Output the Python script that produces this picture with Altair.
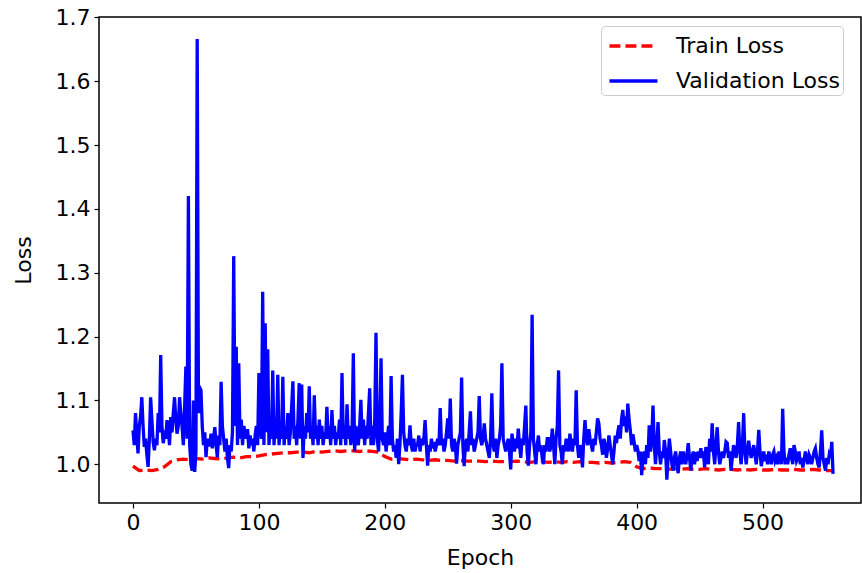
import altair as alt
import pandas as pd

# Validation loss, one value per epoch (epochs 0..556)
val_loss = [
    # 0
    1.053, 1.030, 1.080, 1.045, 1.017, 1.060, 1.075, 1.105, 1.060, 1.027,
    1.040, 1.015, 0.996, 1.040, 1.105, 1.070, 1.035, 1.022, 1.040, 1.030,
    1.080, 1.050, 1.171, 1.060, 1.033, 1.045, 1.040, 1.069, 1.055, 1.030,
    1.074, 1.050, 1.080, 1.105, 1.070, 1.048, 1.060, 1.105, 1.080, 1.058,
    1.030, 1.090, 1.153, 1.040, 1.420, 1.030, 1.000, 0.990, 1.100, 0.988,
    1.020, 1.666, 1.080, 1.120, 1.116, 1.060, 1.030, 1.050, 1.011, 1.040,
    1.030, 1.030, 1.048, 1.025, 1.040, 1.058, 1.030, 1.011, 1.045, 1.030,
    1.129, 1.060, 1.040, 1.020, 1.040, 1.010, 0.994, 1.030, 1.020, 1.050,
    1.326, 1.060, 1.184, 1.030, 1.158, 1.040, 1.070, 1.030, 1.060, 1.050,
    1.040, 1.055, 1.025, 1.045, 1.030, 1.040, 1.020, 1.045, 1.060, 1.030,
    # 100
    1.143, 1.060, 1.040, 1.270, 1.030, 1.221, 1.050, 1.180, 1.030, 1.060,
    1.040, 1.147, 1.030, 1.070, 1.040, 1.140, 1.030, 1.060, 1.040, 1.137,
    1.030, 1.060, 1.040, 1.080, 1.030, 1.050, 1.090, 1.130, 1.040, 1.060,
    1.030, 1.070, 1.127, 1.040, 1.125, 1.010, 1.060, 1.040, 1.080, 1.050,
    1.122, 1.040, 1.060, 1.030, 1.108, 1.040, 1.060, 1.030, 1.070, 1.040,
    1.060, 1.030, 1.050, 1.040, 1.090, 1.040, 1.060, 1.030, 1.085, 1.040,
    1.060, 1.030, 1.050, 1.040, 1.070, 1.030, 1.143, 1.040, 1.060, 1.030,
    1.094, 1.040, 1.060, 1.030, 1.050, 1.174, 1.020, 1.060, 1.040, 1.030,
    1.060, 1.101, 1.040, 1.070, 1.030, 1.060, 1.040, 1.080, 1.119, 1.030,
    1.060, 1.030, 1.070, 1.206, 1.040, 1.020, 1.060, 1.166, 1.040, 1.030,
    # 200
    1.050, 1.020, 1.040, 1.060, 1.030, 1.138, 1.040, 1.020, 1.030, 1.010,
    1.040, 1.000, 1.030, 1.080, 1.140, 1.050, 1.030, 1.020, 1.040, 1.030,
    1.061, 1.030, 1.020, 1.040, 1.020, 1.030, 1.030, 1.045, 1.020, 1.040,
    1.030, 1.040, 1.069, 1.030, 0.998, 1.030, 1.020, 1.040, 1.025, 1.035,
    1.020, 1.030, 1.040, 1.030, 1.088, 1.030, 1.040, 1.020, 1.030, 1.050,
    1.072, 1.040, 1.103, 1.030, 1.020, 1.040, 1.030, 1.001, 1.030, 1.040,
    1.050, 1.136, 1.030, 0.997, 1.030, 1.040, 1.020, 1.050, 1.083, 1.030,
    1.040, 1.020, 1.030, 1.040, 1.050, 1.107, 1.040, 1.030, 1.040, 1.064,
    1.040, 1.030, 1.020, 1.010, 1.040, 1.111, 1.030, 1.020, 1.040, 1.010,
    1.030, 1.040, 1.060, 1.158, 1.040, 1.030, 1.020, 1.030, 1.040, 1.020,
    # 300
    0.992, 1.048, 1.030, 1.020, 1.040, 1.025, 1.056, 1.030, 1.010, 1.040,
    1.030, 1.060, 1.092, 1.020, 0.998, 1.030, 1.050, 1.234, 1.040, 1.020,
    1.000, 1.030, 1.045, 1.020, 1.030, 1.010, 1.000, 1.030, 1.020, 1.040,
    1.040, 1.020, 1.030, 1.056, 1.030, 1.000, 1.040, 1.060, 1.147, 1.030,
    1.020, 1.000, 1.030, 1.020, 1.040, 1.030, 1.020, 1.048, 1.030, 1.020,
    1.040, 1.030, 1.116, 1.030, 1.010, 1.030, 1.020, 0.995, 1.040, 1.069,
    1.040, 1.030, 1.055, 1.040, 1.030, 1.020, 1.040, 1.030, 1.050, 1.072,
    1.064, 1.040, 1.030, 1.015, 1.040, 1.030, 1.010, 1.025, 1.045, 1.030,
    1.015, 1.000, 1.020, 1.045, 1.033, 1.050, 1.061, 1.040, 1.070, 1.085,
    1.060, 1.075, 1.050, 1.095, 1.070, 1.053, 1.030, 1.047, 1.035, 1.020,
    # 400
    1.030, 1.022, 1.005, 1.020, 0.983, 1.010, 1.020, 1.000, 1.030, 1.010,
    1.061, 1.020, 1.040, 1.092, 1.030, 1.000, 1.030, 1.066, 1.020, 1.000,
    1.020, 1.010, 1.038, 1.020, 0.976, 1.010, 1.040, 1.020, 1.000, 0.990,
    1.010, 1.020, 1.000, 0.986, 1.010, 1.020, 1.000, 1.020, 1.010, 1.000,
    1.015, 1.033, 1.010, 0.990, 1.010, 1.020, 1.000, 1.019, 1.005, 1.020,
    1.010, 1.025, 1.010, 1.020, 0.995, 1.027, 1.010, 1.000, 1.040, 1.020,
    1.064, 1.020, 1.000, 1.030, 1.058, 1.020, 1.000, 1.010, 1.020, 1.010,
    1.020, 1.035, 1.033, 1.010, 1.020, 0.990, 1.010, 1.030, 1.020, 1.010,
    1.030, 1.066, 1.020, 1.000, 1.030, 1.080, 1.020, 1.000, 1.020, 1.037,
    1.020, 1.010, 1.020, 1.030, 1.015, 1.000, 1.020, 1.054, 1.020, 0.997,
    # 500
    1.010, 1.020, 1.005, 1.015, 1.000, 1.020, 1.010, 1.000, 1.015, 1.020,
    1.005, 1.010, 1.000, 1.020, 1.010, 1.000, 1.087, 1.020, 1.000, 1.010,
    1.000, 1.015, 1.025, 1.010, 1.000, 1.030, 1.020, 1.005, 1.010, 1.020,
    1.000, 1.010, 0.995, 1.005, 1.020, 1.010, 1.000, 1.015, 1.010, 1.000,
    1.010, 1.020, 1.025, 1.010, 1.000, 0.995, 1.020, 1.053, 1.010, 1.000,
    0.990, 1.010, 1.000, 1.015, 1.010, 1.035, 0.985,
]

# Train loss, read every 5 epochs (0, 5, ..., 555) plus the last epoch 556
train_loss = [
    0.997, 0.990, 0.991, 0.990, 0.992, 0.996, 1.004, 1.007, 1.008, 1.007,
    1.009, 1.008, 1.010, 1.009, 1.008, 1.010, 1.011, 1.010, 1.012, 1.012,
    1.013, 1.015, 1.016, 1.017, 1.018, 1.018, 1.019, 1.019, 1.018, 1.020,
    1.019, 1.020, 1.021, 1.020, 1.021, 1.021, 1.020, 1.021, 1.020, 1.019,
    1.012, 1.008, 1.009, 1.008, 1.007, 1.008, 1.007, 1.006, 1.007, 1.006,
    1.006, 1.005, 1.006, 1.005, 1.005, 1.005, 1.004, 1.005, 1.004, 1.004,
    1.004, 1.005, 1.004, 1.003, 1.004, 1.004, 1.003, 1.004, 1.003, 1.004,
    1.003, 1.004, 1.003, 1.003, 1.002, 1.003, 1.002, 1.003, 1.004, 1.003,
    0.996, 0.993, 0.994, 0.993, 0.993, 0.992, 0.993, 0.992, 0.993, 0.992,
    0.992, 0.993, 0.992, 0.991, 0.992, 0.992, 0.991, 0.992, 0.991, 0.992,
    0.991, 0.991, 0.992, 0.991, 0.991, 0.992, 0.991, 0.991, 0.992, 0.991,
    0.990, 0.990, 0.991,
]
train_epochs = list(range(0, 556, 5)) + [556]

x_ticks = [0, 100, 200, 300, 400, 500]
y_ticks = [1.0, 1.1, 1.2, 1.3, 1.4, 1.5, 1.6, 1.7]
series_names = ["Train Loss", "Validation Loss"]

rows = []
for e, v in zip(train_epochs, train_loss):
    rows.append({"Epoch": e, "Loss": v, "series": "Train Loss"})
for e, v in enumerate(val_loss):
    rows.append({"Epoch": e, "Loss": v, "series": "Validation Loss"})
df = pd.DataFrame(rows)

FONT = "DejaVu Sans"
FS = 22

chart = (
    alt.Chart(df)
    .mark_line(strokeWidth=3.3, clip=True)
    .encode(
        x=alt.X(
            "Epoch:Q",
            scale=alt.Scale(domain=[-27, 578.2], nice=False, zero=False),
            axis=alt.Axis(values=x_ticks, format="d", title="Epoch"),
        ),
        y=alt.Y(
            "Loss:Q",
            scale=alt.Scale(domain=[0.9393, 1.7006], nice=False, zero=False),
            axis=alt.Axis(values=y_ticks, format=".1f", title="Loss"),
        ),
        color=alt.Color(
            "series:N",
            scale=alt.Scale(domain=series_names, range=["#ff0000", "#0000ff"]),
            legend=alt.Legend(
                title=None,
                orient="none",
                legendX=502,
                legendY=9,
                symbolType="M-0.77,0H2.43",
                symbolSize=900,
                symbolStrokeWidth=3.3,
                labelFontSize=FS,
                labelFont=FONT,
                labelColor="#000000",
                labelLimit=0,
                fillColor="white",
                strokeColor="#cccccc",
                cornerRadius=4,
                padding=3,
                rowPadding=7,
                labelOffset=38,
            ),
        ),
        strokeDash=alt.StrokeDash(
            "series:N",
            scale=alt.Scale(domain=series_names, range=[[11, 5], [1, 0]]),
            legend=None,
        ),
        order=alt.Order("Epoch:Q"),
    )
    .properties(
        width=762,
        height=486,
        autosize=alt.AutoSizeParams(type="none"),
        padding={"left": 99, "top": 17, "right": 1, "bottom": 70},
    )
    .configure_view(stroke="#000000", strokeWidth=1.5)
    .configure_axis(
        grid=False,
        domain=False,
        tickColor="#000000",
        tickWidth=1.2,
        tickSize=5,
        labelFont=FONT,
        labelFontSize=FS,
        labelColor="#000000",
        titleFont=FONT,
        titleFontSize=FS,
        titleFontWeight="normal",
        titleColor="#000000",
        labelPadding=4,
    )
    .configure_axisX(titlePadding=14)
    .configure_axisY(titlePadding=20)
)

chart.save("out.html", embed_options={"renderer": "svg", "actions": False})
